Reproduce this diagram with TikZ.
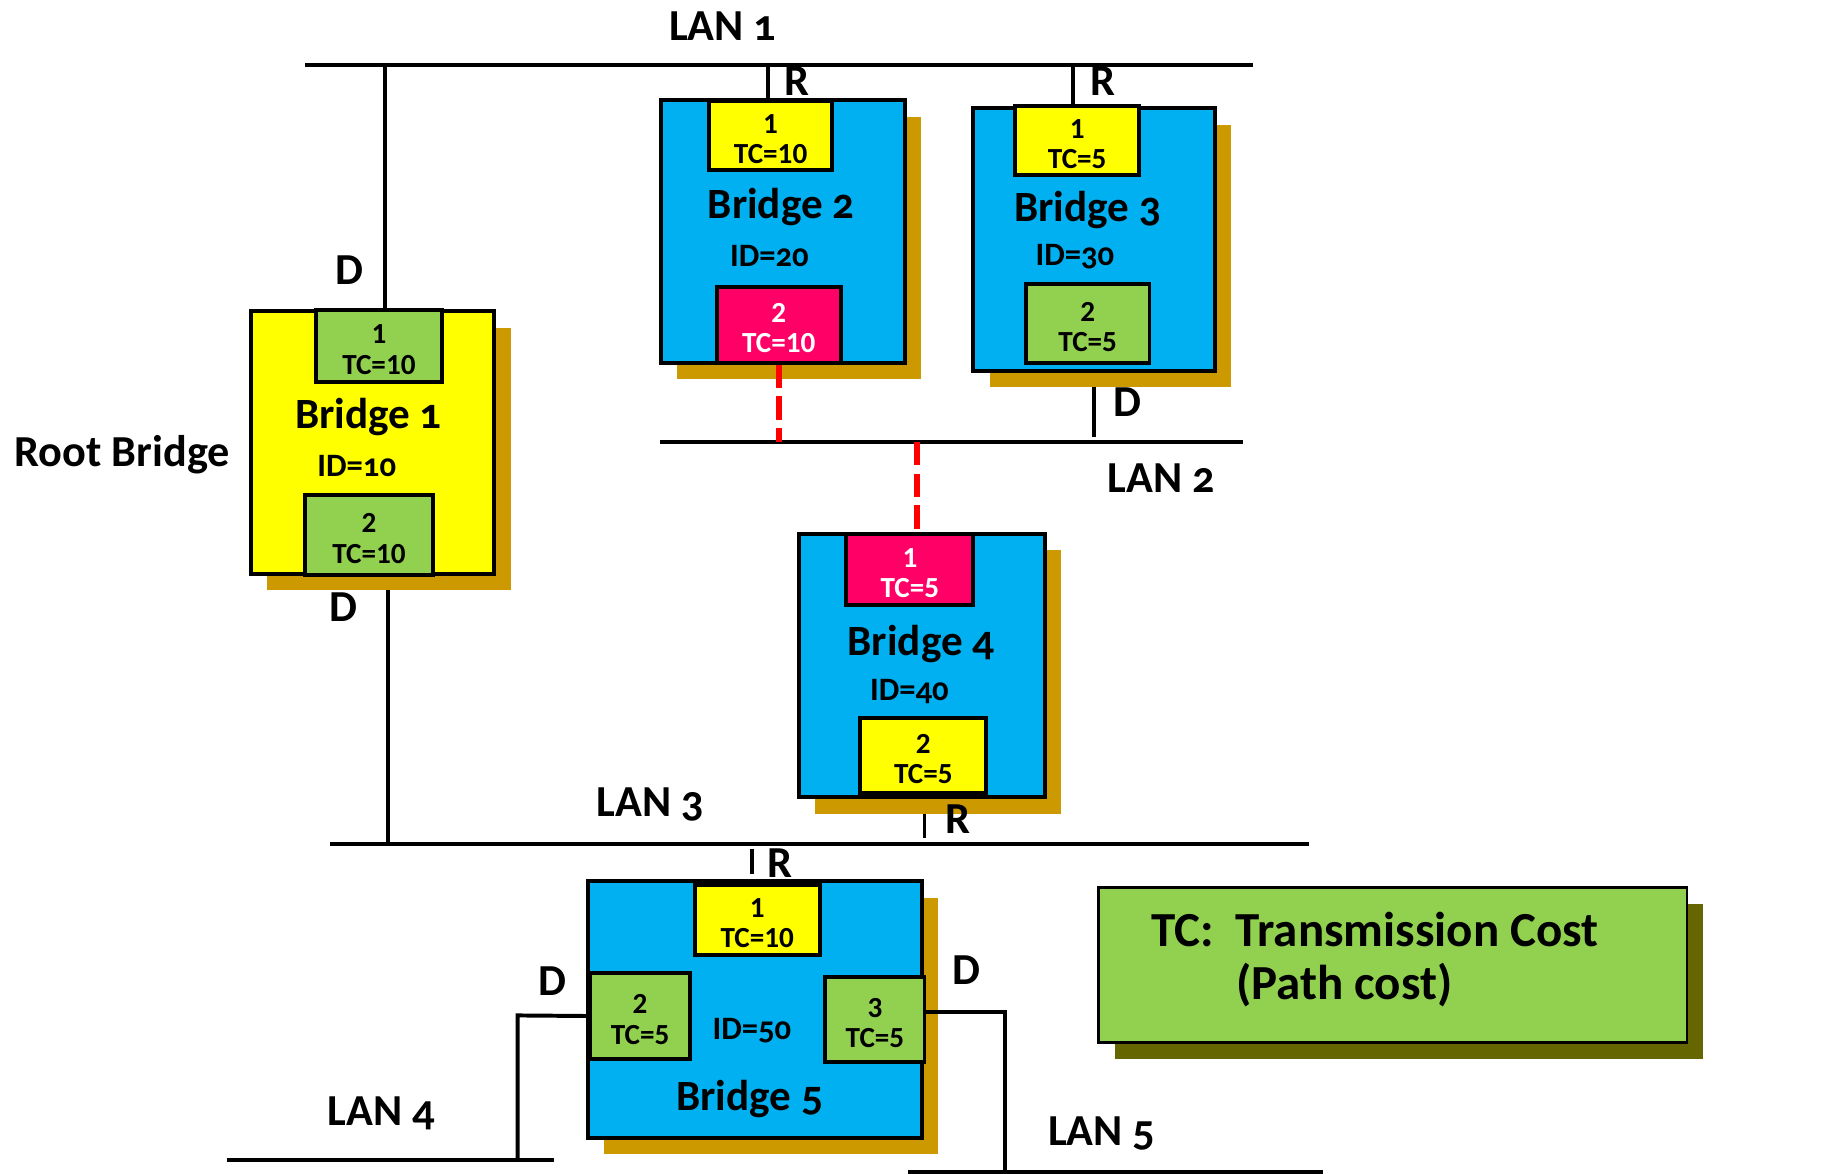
\documentclass[tikz,border=0pt]{standalone}
\usepackage{fontspec}
\setmainfont{Carlito}[Numbers=OldStyle]
\usetikzlibrary{fit,shadows,backgrounds}
\definecolor{bblue}{HTML}{00B0F0}
\definecolor{byellow}{HTML}{FFFF00}
\definecolor{bgreen}{HTML}{92D050}
\definecolor{bpink}{HTML}{FF0066}
\definecolor{shgold}{HTML}{CC9900}
\definecolor{sholive}{HTML}{666600}
\definecolor{dashred}{HTML}{FF0000}
\newcommand\myportfont{\fontsize{12.5}{13}\selectfont\bfseries\addfontfeatures{Numbers=Lining}}
\newcommand\mynamefont{\fontsize{18.5}{20}\selectfont\bfseries}
\newcommand\myidfont{\fontsize{14}{16}\selectfont\bfseries}
\newcommand\mylanfont{\fontsize{19}{21}\selectfont\bfseries}
\newcommand\mylegfont{\fontsize{21}{24}\selectfont\bfseries}
\begin{document}
\begin{tikzpicture}[x=0.5pt,y=-0.5pt,
  bridgebox/.style={draw=black, line width=1.7pt, inner sep=0pt,
    general shadow={fill=shgold, shadow xshift=7pt, shadow yshift=-7pt}},
  port/.style={draw=black, line width=1.7pt, inner sep=0pt},
  porttxt/.style={inner sep=0pt, align=center, font=\myportfont, yshift=-1.5pt},
  bname/.style={font=\mynamefont, inner sep=0pt},
  bid/.style={font=\myidfont, inner sep=0pt},
  lanlbl/.style={font=\mylanfont, inner sep=0pt},
  lan/.style={line width=1.7pt},
  wire/.style={line width=1.7pt},
  blocked/.style={draw=dashred, line width=2.6pt, dash pattern=on 10pt off 3.6pt}]
\useasboundingbox (0,0) rectangle (1568,1007);

% Bridge 1
\node[bridgebox, fill=byellow, fit={(215,267)(424,492)}] (b1) {};
\node[port, fill=bgreen, fit={(271,266)(379,328)}] (b1p1) {};
\node[port, fill=bgreen, fit={(262,425)(371,493)}] (b1p2) {};
\node[porttxt] (b1p1t) at (b1p1.center) {1\\TC=10};
\node[porttxt] (b1p2t) at (b1p2.center) {2\\TC=10};
\node[bname] (b1n) at (316,358) {Bridge 1};
\node[bid] (b1i) at (306,400) {ID=10};

% Bridge 2
\node[bridgebox, fill=bblue, fit={(567,86)(776,311)}] (b2) {};
\node[port, fill=byellow, fit={(608,87)(714,146)}] (b2p1) {};
\node[port, fill=bpink, fit={(615,246)(721,311)}] (b2p2) {};
\node[porttxt] (b2p1t) at (b2p1.center) {1\\TC=10};
\node[porttxt, text=white] (b2p2t) at (b2p2.center) {2\\TC=10};
\node[bname] (b2n) at (670,178) {Bridge 2};
\node[bid] (b2i) at (660,220) {ID=20};

% Bridge 3
\node[bridgebox, fill=bblue, fit={(835,93)(1042,318)}] (b3) {};
\node[port, fill=byellow, fit={(871,91)(977,150)}] (b3p1) {};
\node[port, fill=bgreen, fit={(880,244)(986,311)}] (b3p2) {};
\node[porttxt] (b3p1t) at (b3p1.center) {1\\TC=5};
\node[porttxt] (b3p2t) at (b3p2.center) {2\\TC=5};
\node[bname] (b3n) at (933,180) {Bridge 3};
\node[bid] (b3i) at (922,220) {ID=30};

% Bridge 4
\node[bridgebox, fill=bblue, fit={(685,458)(896,684)}] (b4) {};
\node[port, fill=bpink, fit={(726,458)(835,519)}] (b4p1) {};
\node[port, fill=byellow, fit={(738,616)(846,680)}] (b4p2) {};
\node[porttxt, text=white] (b4p1t) at (b4p1.center) {1\\TC=5};
\node[porttxt] (b4p2t) at (b4p2.center) {2\\TC=5};
\node[bname] (b4n) at (790,552) {Bridge 4};
\node[bid] (b4i) at (780,593) {ID=40};

% Bridge 5
\node[bridgebox, fill=bblue, fit={(504,756)(791,976)}] (b5) {};
\node[port, fill=byellow, fit={(596,759)(703,819)}] (b5p1) {};
\node[port, fill=bgreen, fit={(506,835)(592,908)}] (b5p2) {};
\node[port, fill=bgreen, fit={(708,838)(793,911)}] (b5p3) {};
\node[porttxt] (b5p1t) at (b5p1.center) {1\\TC=10};
\node[porttxt] (b5p2t) at (b5p2.center) {2\\TC=5};
\node[porttxt] (b5p3t) at (b5p3.center) {3\\TC=5};
\node[bid] (b5i) at (645,884) {ID=50};
\node[bname] (b5n) at (643,943) {Bridge 5};

% Legend
\node[draw=black, line width=1.2pt, fill=bgreen, inner sep=0pt,
  general shadow={fill=sholive, shadow xshift=7pt, shadow yshift=-7pt},
  fit={(942,761)(1447,894)}] (legend) {};
\node[font=\mylegfont, anchor=west, inner sep=0pt] (leg1) at (987,797) {TC:\ \ Transmission Cost};
\node[font=\mylegfont, anchor=west, inner sep=0pt] (leg2) at (1060,845) {(Path cost)};

% LAN endpoints
\coordinate (lan1w) at (262,56);  \coordinate (lan1e) at (1075,56);
\coordinate (lan2w) at (566,379); \coordinate (lan2e) at (1066,379);
\coordinate (lan3w) at (283,724); \coordinate (lan3e) at (1123,724);
\coordinate (lan4w) at (195,995); \coordinate (lan4e) at (475,995);
\coordinate (lan5w) at (779,1005); \coordinate (lan5e) at (1135,1005);
\coordinate (b3stub) at (938,375);
\coordinate (b4stub) at (793,719);
\coordinate (b5stub) at (645,728);
\coordinate (b5left) at (444,871);
\coordinate (b5right) at (862,868);

\begin{pgfonlayer}{background}
\draw[lan] (lan1w) -- (lan1e);
\draw[lan] (lan2w) -- (lan2e);
\draw[lan] (lan3w) -- (lan3e);
\draw[lan] (lan4w) -- (lan4e);
\draw[lan] (lan5w) -- (lan5e);
\draw[wire] ([xshift=2.5pt]b1p1.north) -- ([xshift=2.5pt]b1p1.north |- lan1w);
\draw[wire] ([xshift=8pt]b1p2.south) -- ([xshift=8pt]b1p2.south |- lan3w);
\draw[wire] ([xshift=-1pt]b2p1.north) -- ([xshift=-1pt]b2p1.north |- lan1w);
\draw[wire] ([xshift=-2pt]b3p1.north) -- ([xshift=-2pt]b3p1.north |- lan1w);
\draw[wire] (b3stub |- b3p2.south) -- (b3stub);
\draw[wire] (b4stub |- b4p2.south) -- (b4stub);
\draw[wire] (b5stub) -- ++(0,22);
\draw[wire] (b5p2.west) -- (b5left) -- (b5left |- lan4w);
\end{pgfonlayer}
\draw[wire] (b5right -| b5p3.east) -- (b5right) -- (b5right |- lan5w);
\draw[blocked] (b2p2.south) -- (b2p2.south |- lan2w);
\draw[blocked] ([xshift=3pt]b4p1.north |- lan2w) -- ([xshift=3pt]b4p1.north);

% Labels
\node[lanlbl] (l1) at (620,22) {LAN 1};
\node[lanlbl] (l2) at (996,410) {LAN 2};
\node[lanlbl] (l3) at (558,690) {LAN 3};
\node[lanlbl] (l4) at (327,955) {LAN 4};
\node[lanlbl] (l5) at (945,972) {LAN 5};
\node[lanlbl] (root) at (105,390) {Root Bridge};
\node[lanlbl] (d1) at (300,232) {D};
\node[lanlbl] (d2) at (295,521) {D};
\node[lanlbl] (d3) at (967,345) {D};
\node[lanlbl] (d4) at (474,842) {D};
\node[lanlbl] (d5) at (829,832) {D};
\node[lanlbl] (r2) at (684,70) {R};
\node[lanlbl] (r3) at (946,70) {R};
\node[lanlbl] (r4) at (822,703) {R};
\node[lanlbl] (r5) at (669,740) {R};
\end{tikzpicture}
\end{document}
